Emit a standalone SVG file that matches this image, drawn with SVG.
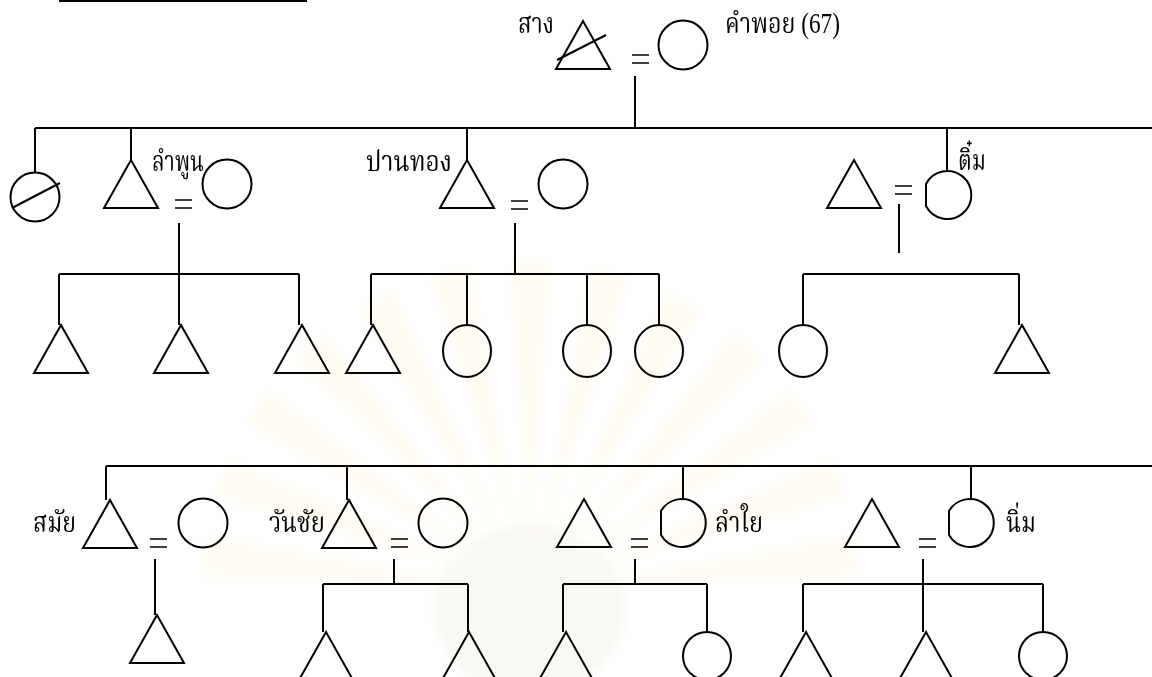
<svg xmlns="http://www.w3.org/2000/svg" xmlns:xlink="http://www.w3.org/1999/xlink" width="1152" height="677" viewBox="0 0 1152 677">
  <style>
    .ln { stroke: #000; stroke-width: 2; fill: none; stroke-linecap: butt; }
    .sym { stroke: #000; stroke-width: 2; fill: none; stroke-linejoin: miter; }
    .eq { stroke: #000; stroke-width: 1.4; fill: none; }
    .lbl { font-family: "Liberation Serif", "Norasi", "Kinnari", "Laksaman", "Noto Serif Thai", "Noto Sans Thai", serif; font-size: 29px; fill: #000; }
    .ray { fill: #fffcf2; }
  </style>
  <defs>
    <!-- male: triangle with apex at origin -->
    <polygon id="tri" class="sym" points="0,0 -27,48 27,48"/>
    <!-- female: ellipse centred at origin -->
    <ellipse id="ell" class="sym" rx="24" ry="26"/>
    <!-- marriage sign -->
    <path id="eq" class="eq" d="M0,0 H17 M0,8 H17"/>
    <!-- one ray of the background emblem, pointing up -->
    <polygon id="ray" class="ray" points="530,540 510,262 550,262"/>
    <filter id="soft" x="-20%" y="-20%" width="140%" height="140%">
      <feGaussianBlur stdDeviation="5"/>
    </filter>
  </defs>

  <rect width="1152" height="677" fill="#fff"/>

  <!-- faint background emblem -->
  <g id="emblem" filter="url(#soft)">
    <use xlink:href="#ray" transform="rotate(-84 530 590)"/>
    <use xlink:href="#ray" transform="rotate(-70 530 590)"/>
    <use xlink:href="#ray" transform="rotate(-56 530 590)"/>
    <use xlink:href="#ray" transform="rotate(-42 530 590)"/>
    <use xlink:href="#ray" transform="rotate(-28 530 590)"/>
    <use xlink:href="#ray" transform="rotate(-14 530 590)"/>
    <use xlink:href="#ray"/>
    <use xlink:href="#ray" transform="rotate(14 530 590)"/>
    <use xlink:href="#ray" transform="rotate(28 530 590)"/>
    <use xlink:href="#ray" transform="rotate(42 530 590)"/>
    <use xlink:href="#ray" transform="rotate(56 530 590)"/>
    <use xlink:href="#ray" transform="rotate(70 530 590)"/>
    <use xlink:href="#ray" transform="rotate(84 530 590)"/>
    <ellipse cx="530" cy="610" rx="95" ry="85" fill="#faf8f2"/>
  </g>

  <!-- heading underline -->
  <line class="ln" x1="59" y1="1" x2="307" y2="1"/>

  <!-- connectors -->
  <g id="connectors">
    <!-- generation 1 sibling bar -->
    <path class="ln" d="M635,76 V128 M35,128 H1152 M35,128 V172 M131,128 V160 M467,128 V160 M947,128 V171"/>
    <!-- ลำพูน family -->
    <path class="ln" d="M179,223 V274 M59,274 H299 M59,274 V325 M179,274 V325 M299,274 V325"/>
    <!-- ปานทอง family -->
    <path class="ln" d="M515,223 V274 M371,274 H659 M371,274 V325 M467,274 V325 M587,274 V325 M659,274 V325"/>
    <!-- ติ๋ม family -->
    <path class="ln" d="M899,204 V253 M803,274 H1019 M803,274 V325 M1019,274 V325"/>
    <!-- generation 3 sibling bar -->
    <path class="ln" d="M106,466 H1152 M106,466 V500 M347,466 V500 M683,466 V499 M971,466 V499"/>
    <!-- สมัย family -->
    <path class="ln" d="M155,559 V615"/>
    <!-- วันชัย family -->
    <path class="ln" d="M394,559 V584 M323,584 H468 M323,584 V632 M468,584 V632"/>
    <!-- ลำใย family -->
    <path class="ln" d="M635,559 V584 M563,584 H707 M563,584 V632 M707,584 V632"/>
    <!-- นิ่ม family -->
    <path class="ln" d="M923,559 V632 M803,584 H1043 M803,584 V632 M1043,584 V632"/>
  </g>

  <!-- generation 0 -->
  <g id="sang">
    <use xlink:href="#tri" x="583" y="21"/>
    <line class="ln" x1="557" y1="60" x2="606" y2="35"/>
    <text class="lbl" x="518" y="33" textLength="36" lengthAdjust="spacingAndGlyphs">สาง</text>
  </g>
  <use xlink:href="#eq" x="632" y="55"/>
  <g id="khamphoi">
    <circle class="sym" cx="683" cy="45" r="24.5"/>
    <text class="lbl" x="725" y="33" textLength="115" lengthAdjust="spacingAndGlyphs">คำพอย (67)</text>
  </g>

  <!-- generation 1 -->
  <g id="daughter-dead">
    <circle class="sym" cx="35" cy="197" r="24.5"/>
    <line class="ln" x1="12" y1="208" x2="60" y2="183"/>
  </g>
  <g id="lamphun">
    <use xlink:href="#tri" x="131" y="160"/>
    <text class="lbl" x="152" y="171" textLength="52" lengthAdjust="spacingAndGlyphs">ลำพูน</text>
  </g>
  <use xlink:href="#eq" x="175" y="200"/>
  <g id="lamphun-wife"><circle class="sym" cx="227" cy="184" r="24.5"/></g>

  <g id="pantong">
    <use xlink:href="#tri" x="467" y="160"/>
    <text class="lbl" x="366" y="171" textLength="86" lengthAdjust="spacingAndGlyphs">ปานทอง</text>
  </g>
  <use xlink:href="#eq" x="511" y="201"/>
  <g id="pantong-wife"><circle class="sym" cx="563" cy="184" r="24.5"/></g>

  <g id="tim-husband"><use xlink:href="#tri" x="854" y="160"/></g>
  <use xlink:href="#eq" x="895" y="186"/>
  <g id="tim">
    <path class="sym" d="M926,184 A24,24 0 1 1 926,206 Z"/>
    <text class="lbl" x="958" y="170" textLength="28" lengthAdjust="spacingAndGlyphs">ติ๋ม</text>
  </g>

  <!-- generation 2 -->
  <g id="lp-c1"><use xlink:href="#tri" x="61" y="325"/></g>
  <g id="lp-c2"><use xlink:href="#tri" x="181" y="325"/></g>
  <g id="lp-c3"><use xlink:href="#tri" x="302" y="325"/></g>
  <g id="pt-c1"><use xlink:href="#tri" x="373" y="325"/></g>
  <g id="pt-c2"><use xlink:href="#ell" x="467" y="351"/></g>
  <g id="pt-c3"><use xlink:href="#ell" x="587" y="351"/></g>
  <g id="pt-c4"><use xlink:href="#ell" x="659" y="351"/></g>
  <g id="tm-c1"><use xlink:href="#ell" x="803" y="351"/></g>
  <g id="tm-c2"><use xlink:href="#tri" x="1022" y="325"/></g>

  <!-- generation 3 couples -->
  <g id="samai">
    <use xlink:href="#tri" x="110" y="500"/>
    <text class="lbl" x="33" y="532" textLength="43" lengthAdjust="spacingAndGlyphs">สมัย</text>
  </g>
  <use xlink:href="#eq" x="150" y="539"/>
  <g id="samai-wife"><circle class="sym" cx="203" cy="523" r="24.5"/></g>

  <g id="wanchai">
    <use xlink:href="#tri" x="349" y="500"/>
    <text class="lbl" x="269" y="532" textLength="56" lengthAdjust="spacingAndGlyphs">วันชัย</text>
  </g>
  <use xlink:href="#eq" x="391" y="539"/>
  <g id="wanchai-wife"><circle class="sym" cx="443" cy="523" r="24.5"/></g>

  <g id="lamyai-husband"><use xlink:href="#tri" x="584" y="499"/></g>
  <use xlink:href="#eq" x="631" y="539"/>
  <g id="lamyai">
    <path class="sym" d="M661,511 A24,24 0 1 1 661,535 Z"/>
    <text class="lbl" x="715" y="532" textLength="48" lengthAdjust="spacingAndGlyphs">ลำใย</text>
  </g>

  <g id="nim-husband"><use xlink:href="#tri" x="872" y="499"/></g>
  <use xlink:href="#eq" x="919" y="539"/>
  <g id="nim">
    <path class="sym" d="M949,511 A24,24 0 1 1 949,535 Z"/>
    <text class="lbl" x="1006" y="532" textLength="30" lengthAdjust="spacingAndGlyphs">นิ่ม</text>
  </g>

  <!-- generation 4 -->
  <g id="sm-c1"><use xlink:href="#tri" x="157" y="615"/></g>
  <g id="wc-c1"><use xlink:href="#tri" x="326" y="632"/></g>
  <g id="wc-c2"><use xlink:href="#tri" x="469" y="632"/></g>
  <g id="ly-c1"><use xlink:href="#tri" x="566" y="632"/></g>
  <g id="ly-c2"><circle class="sym" cx="707" cy="656" r="24"/></g>
  <g id="nm-c1"><use xlink:href="#tri" x="806" y="632"/></g>
  <g id="nm-c2"><use xlink:href="#tri" x="926" y="632"/></g>
  <g id="nm-c3"><circle class="sym" cx="1043" cy="656" r="24"/></g>
</svg>
